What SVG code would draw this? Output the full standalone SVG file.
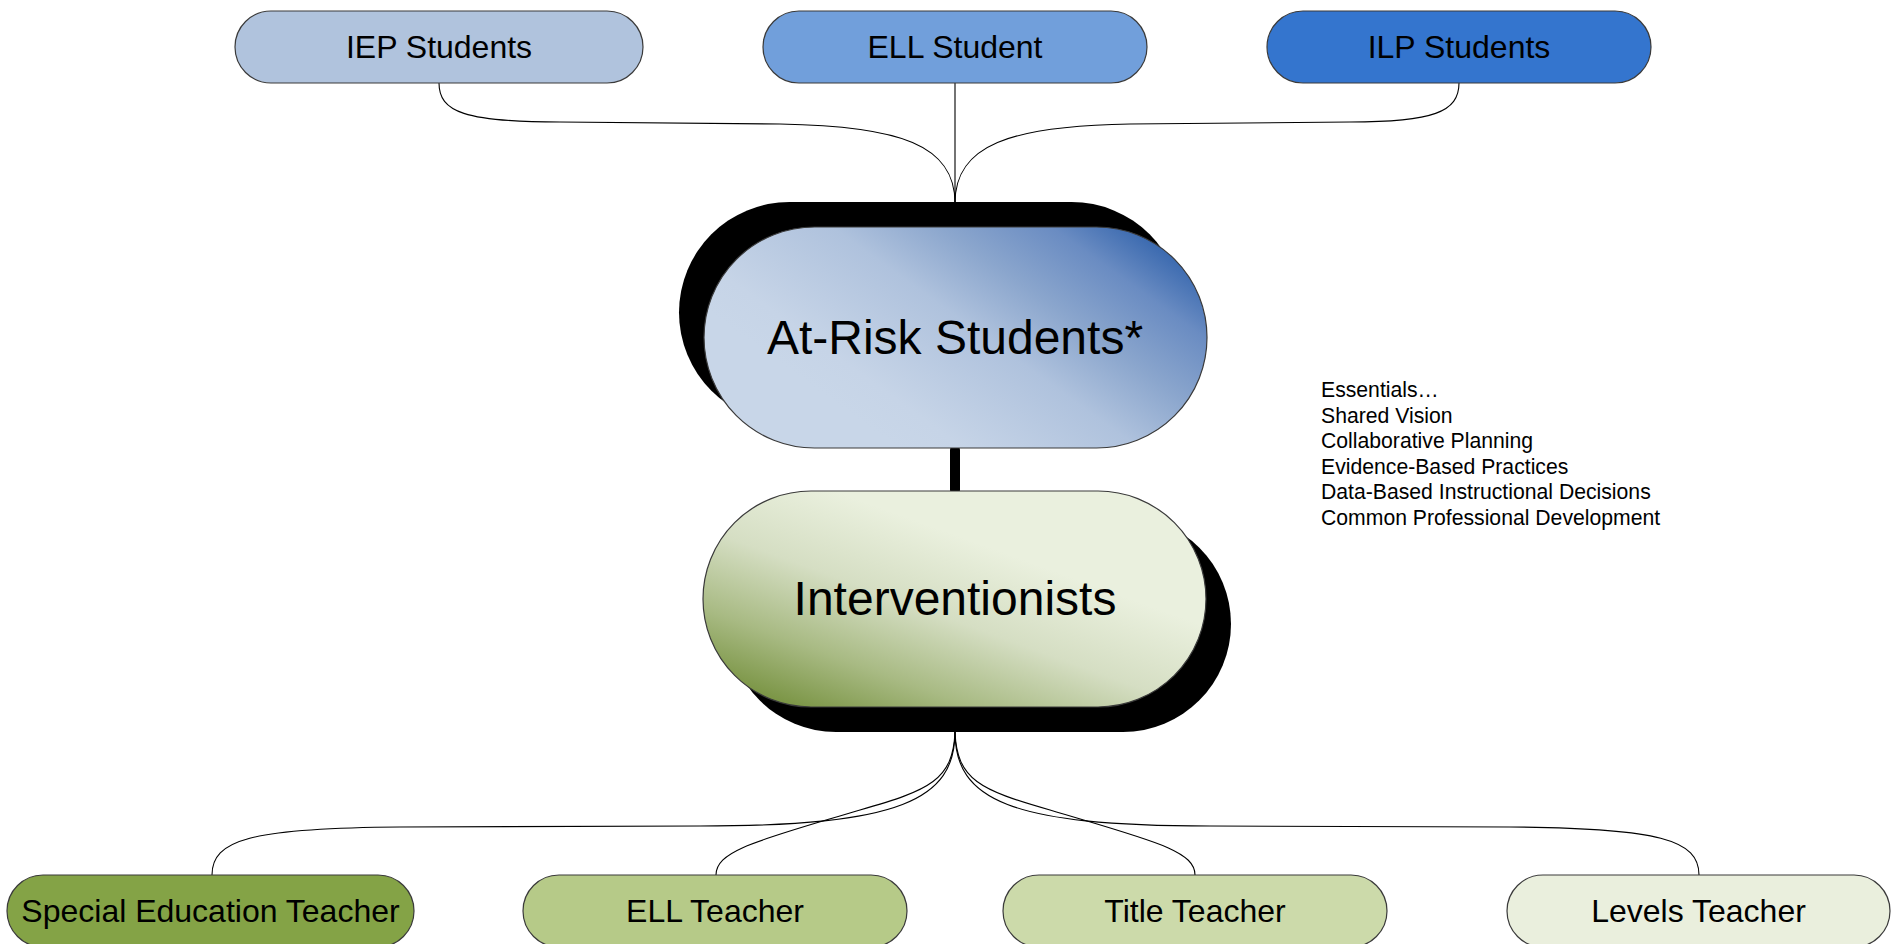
<svg xmlns="http://www.w3.org/2000/svg" width="1896" height="944" viewBox="0 0 1896 944">
<defs>
<style>
.node{stroke:#3a3a3a;stroke-width:1.2}
.lbl{font-family:"Liberation Sans",Arial,sans-serif;font-size:32px;fill:#000;text-anchor:middle}
.big{font-family:"Liberation Sans",Arial,sans-serif;font-size:48px;fill:#000;text-anchor:middle}
.conn{fill:none;stroke:#000;stroke-width:1.1}
.ess{font-family:"Liberation Sans",Arial,sans-serif;font-size:21.2px;fill:#000}
</style>
<linearGradient id="gBlue" gradientUnits="userSpaceOnUse" x1="973" y1="502" x2="1160" y2="242">
<stop offset="0" stop-color="#C8D6E8"/>
<stop offset="0.12" stop-color="#C6D4E7"/>
<stop offset="0.44" stop-color="#AFC2DD"/>
<stop offset="0.64" stop-color="#8BA6CD"/>
<stop offset="0.84" stop-color="#6A8CC2"/>
<stop offset="1" stop-color="#3767AE"/>
</linearGradient>
<linearGradient id="gGreen" gradientUnits="userSpaceOnUse" x1="735" y1="720" x2="824" y2="476">
<stop offset="0" stop-color="#75903E"/>
<stop offset="0.13" stop-color="#7C9647"/>
<stop offset="0.36" stop-color="#A8BA83"/>
<stop offset="0.65" stop-color="#D5DEC3"/>
<stop offset="0.96" stop-color="#EAF0DE"/>
</linearGradient>
</defs>
<rect width="1896" height="944" fill="#fff"/>
<g id="connectors">
<path class="conn" d="M439,83 C439,112 465,122 560,122 L780,124 C900,126 955,145 955,203"/>
<path class="conn" d="M955,83 L955,203"/>
<path class="conn" d="M1459,83 C1459,112 1433,122 1350,122 L1130,124 C1010,126 955,145 955,203"/>
<path d="M955,450 L955,490" fill="none" stroke="#000" stroke-width="10" stroke-linecap="round"/>
<path class="conn" d="M955,732 C955,800 900,826 700,826 L400,827 C250,828 212,840 212,875"/>
<path class="conn" d="M955,732 C953,780 930,790 860,810 C760,840 716,850 716,875"/>
<path class="conn" d="M955,732 C957,780 980,790 1050,810 C1150,840 1195,850 1195,875"/>
<path class="conn" d="M955,732 C955,800 1010,826 1210,826 L1510,827 C1660,828 1699,840 1699,875"/>
</g>
<g id="n-iep">
<rect class="node" x="235" y="11" width="408" height="72" rx="36" fill="#B0C3DD"/>
<text class="lbl" x="439" y="58">IEP Students</text>
</g>
<g id="n-ell-student">
<rect class="node" x="763" y="11" width="384" height="72" rx="36" fill="#719FDB"/>
<text class="lbl" x="955" y="58">ELL Student</text>
</g>
<g id="n-ilp">
<rect class="node" x="1267" y="11" width="384" height="72" rx="36" fill="#3475CE"/>
<text class="lbl" x="1459" y="58">ILP Students</text>
</g>
<g id="n-atrisk">
<rect x="679" y="202" width="503" height="221" rx="110.5" fill="#000"/>
<rect class="node" x="704" y="227" width="503" height="221" rx="110.5" fill="url(#gBlue)"/>
<text class="big" x="955" y="354">At-Risk Students*</text>
</g>
<g id="n-interventionists">
<rect x="728" y="516" width="503" height="216" rx="108" fill="#000"/>
<rect class="node" x="703" y="491" width="503" height="216" rx="108" fill="url(#gGreen)"/>
<text class="big" x="955" y="615">Interventionists</text>
</g>
<g id="n-essentials">
<text class="ess" x="1321" y="397">Essentials…</text>
<text class="ess" x="1321" y="422.6">Shared Vision</text>
<text class="ess" x="1321" y="448.2">Collaborative Planning</text>
<text class="ess" x="1321" y="473.8">Evidence-Based Practices</text>
<text class="ess" x="1321" y="499.4">Data-Based Instructional Decisions</text>
<text class="ess" x="1321" y="525">Common Professional Development</text>
</g>
<g id="n-sped">
<rect class="node" x="7" y="875" width="407" height="72" rx="36" fill="#84A346"/>
<text class="lbl" x="210.5" y="922">Special Education Teacher</text>
</g>
<g id="n-ell-teacher">
<rect class="node" x="523" y="875" width="384" height="72" rx="36" fill="#B6CA88"/>
<text class="lbl" x="715" y="922">ELL Teacher</text>
</g>
<g id="n-title">
<rect class="node" x="1003" y="875" width="384" height="72" rx="36" fill="#CCDAAA"/>
<text class="lbl" x="1195" y="922">Title Teacher</text>
</g>
<g id="n-levels">
<rect class="node" x="1507" y="875" width="383" height="72" rx="36" fill="#EAEFDD"/>
<text class="lbl" x="1698.5" y="922">Levels Teacher</text>
</g>
</svg>
